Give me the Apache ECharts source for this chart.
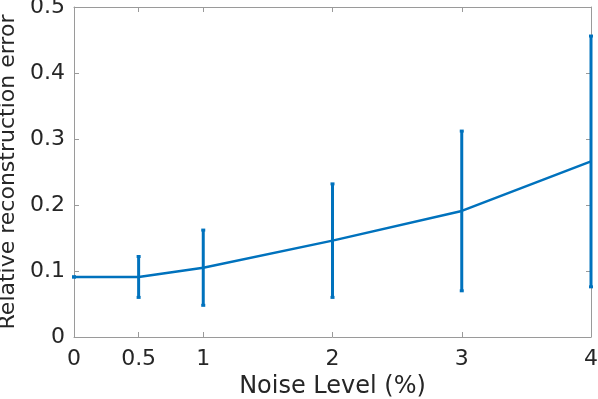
<!DOCTYPE html>
<html>
<head>
<meta charset="utf-8">
<script src="https://cdn.jsdelivr.net/npm/echarts@6/dist/echarts.min.js"></script>
<style>
  html, body { margin: 0; padding: 0; background: #fff; }
  #chart { width: 598px; height: 399px; }
</style>
</head>
<body>
<div id="chart"></div>
<script>
// values
const noiseLevels = [0, 0.5, 1, 2, 3, 4];
const meanError = [0.091, 0.091, 0.105, 0.146, 0.191, 0.266];
const errorSpread = [0, 0.031, 0.057, 0.086, 0.121, 0.19];
const xTicks = [0, 0.5, 1, 2, 3, 4];

const lineColor = '#0072BD';
const axisColor = '#9a9a9a';
const textColor = '#262626';
const font = 'DejaVu Sans, Liberation Sans, Arial, sans-serif';

const chart = echarts.init(document.getElementById('chart'));

const lineData = noiseLevels.map((x, i) => [x, meanError[i]]);
const barData = noiseLevels.map((x, i) => [x, meanError[i] - errorSpread[i], meanError[i] + errorSpread[i]]);

function renderErrorBar(params, api) {
  const x = api.value(0);
  const top = api.coord([x, api.value(2)]);
  const bottom = api.coord([x, api.value(1)]);
  const capHalf = 2;
  const style = { stroke: lineColor, lineWidth: 3 };
  return {
    type: 'group',
    children: [
      { type: 'line', shape: { x1: top[0], y1: top[1], x2: bottom[0], y2: bottom[1] }, style },
      { type: 'line', shape: { x1: top[0] - capHalf, y1: top[1], x2: top[0] + capHalf, y2: top[1] }, style },
      { type: 'line', shape: { x1: bottom[0] - capHalf, y1: bottom[1], x2: bottom[0] + capHalf, y2: bottom[1] }, style },
    ],
  };
}

const baseX = {
  type: 'value',
  min: 0,
  max: 4,
  axisLine: { show: true, onZero: false, lineStyle: { color: axisColor, width: 1 } },
  axisTick: { show: true, inside: true, length: 5, customValues: xTicks, lineStyle: { color: axisColor } },
  splitLine: { show: false },
};

const baseY = {
  type: 'value',
  min: 0,
  max: 0.5,
  interval: 0.1,
  axisLine: { show: true, onZero: false, lineStyle: { color: axisColor, width: 1 } },
  axisTick: { show: true, inside: true, length: 5, lineStyle: { color: axisColor } },
  splitLine: { show: false },
};

const option = {
  animation: false,
  backgroundColor: '#fff',
  grid: { left: 74, right: 7, top: 7, bottom: 62, outerBoundsMode: 'none' },
  xAxis: [
    Object.assign({}, baseX, {
      position: 'bottom',
      name: 'Noise Level (%)',
      nameLocation: 'middle',
      nameGap: 31,
      nameTextStyle: { color: textColor, fontSize: 24, fontFamily: font },
      axisLabel: {
        customValues: xTicks,
        color: textColor,
        fontSize: 22,
        fontFamily: font,
        margin: 11,
        formatter: (v) => String(v),
      },
    }),
    Object.assign({}, baseX, { position: 'top', axisLabel: { show: false } }),
  ],
  yAxis: [
    Object.assign({}, baseY, {
      position: 'left',
      name: 'Relative reconstruction error',
      nameLocation: 'middle',
      nameGap: 48,
      nameTextStyle: { color: textColor, fontSize: 22, fontFamily: font },
      axisLabel: {
        color: textColor,
        fontSize: 22,
        fontFamily: font,
        margin: 9,
        padding: [5, 0, 0, 0],
        formatter: (v) => (v === 0 ? '0' : v.toFixed(1)),
      },
    }),
    Object.assign({}, baseY, { position: 'right', axisLabel: { show: false } }),
  ],
  series: [
    {
      type: 'line',
      data: lineData,
      xAxisIndex: 0,
      yAxisIndex: 0,
      showSymbol: false,
      lineStyle: { color: lineColor, width: 2.5 },
      itemStyle: { color: lineColor },
      z: 3,
    },
    {
      type: 'custom',
      data: barData,
      xAxisIndex: 0,
      yAxisIndex: 0,
      renderItem: renderErrorBar,
      encode: { x: 0, y: [1, 2] },
      clip: false,
      z: 4,
    },
  ],
};

chart.setOption(option);
</script>
</body>
</html>
